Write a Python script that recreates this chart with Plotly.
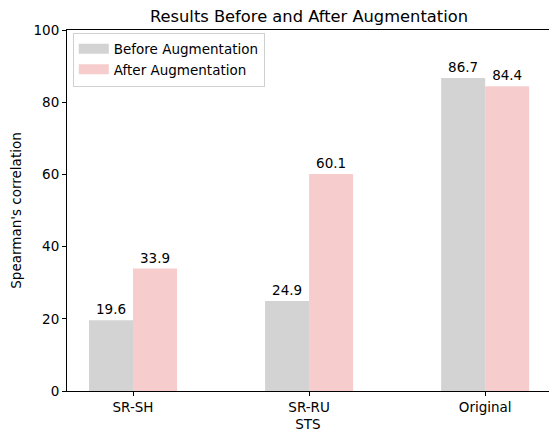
import plotly.graph_objects as go

categories = ["SR-SH", "SR-RU", "Original"]
before = [19.6, 24.9, 86.7]
after = [33.9, 60.1, 84.4]
yticks = [0, 20, 40, 60, 80, 100]
series_names = ["Before Augmentation", "After Augmentation"]
colors = ["#d3d3d3", "#f6cdcc"]

pos = list(range(len(categories)))
font = "DejaVu Sans"

fig = go.Figure()
for vals, name, col, off in [(before, series_names[0], colors[0], -0.25),
                             (after, series_names[1], colors[1], 0)]:
    fig.add_trace(go.Bar(x=pos, y=vals, name=name, width=0.25, offset=off, showlegend=False,
                         marker=dict(color=col, line=dict(width=0)),
                         text=[f"{v:.1f}" for v in vals], textposition="outside",
                         textfont=dict(size=13.5, color="#000", family=font), constraintext="none",
                         cliponaxis=False, hoverinfo="skip"))
for name, col in zip(series_names, colors):
    fig.add_trace(go.Scatter(x=[None], y=[None], mode="lines", name=name,
                             line=dict(color=col, width=10)))

fig.update_layout(
    width=549, height=432,
    margin=dict(l=67, r=0, t=30, b=41),
    plot_bgcolor="white", paper_bgcolor="white",
    font=dict(family=font, size=13.5, color="#000"),
    title=dict(text="Results Before and After Augmentation", xref="paper", x=0.502,
               xanchor="center", y=0.962, yanchor="middle", font=dict(size=16.3)),
    showlegend=True,
    legend=dict(x=0.012, y=0.993, xanchor="left", yanchor="top", bgcolor="rgba(255,255,255,0.8)",
                bordercolor="#d0d0d0", borderwidth=1, font=dict(size=13.5), itemwidth=30,
                tracegroupgap=0),
    xaxis=dict(range=[-0.375, 2.3626], tickvals=pos, ticktext=categories, showgrid=False,
               showline=True, linecolor="#000", linewidth=1, mirror=True, ticks="outside",
               ticklen=4, tickcolor="#000", zeroline=False, automargin=False,
               title=dict(text="STS", font=dict(size=13.5), standoff=5)),
    yaxis=dict(range=[0, 100], tickvals=yticks, showgrid=False, showline=True, linecolor="#000",
               linewidth=1, ticks="outside", ticklen=4, tickcolor="#000", zeroline=False,
               automargin=False,
               title=dict(text="Spearman's correlation", font=dict(size=13.5), standoff=8)),
)

fig.write_html("out.html", post_script="document.body.style.margin='0';",
               config={"displayModeBar": False})
